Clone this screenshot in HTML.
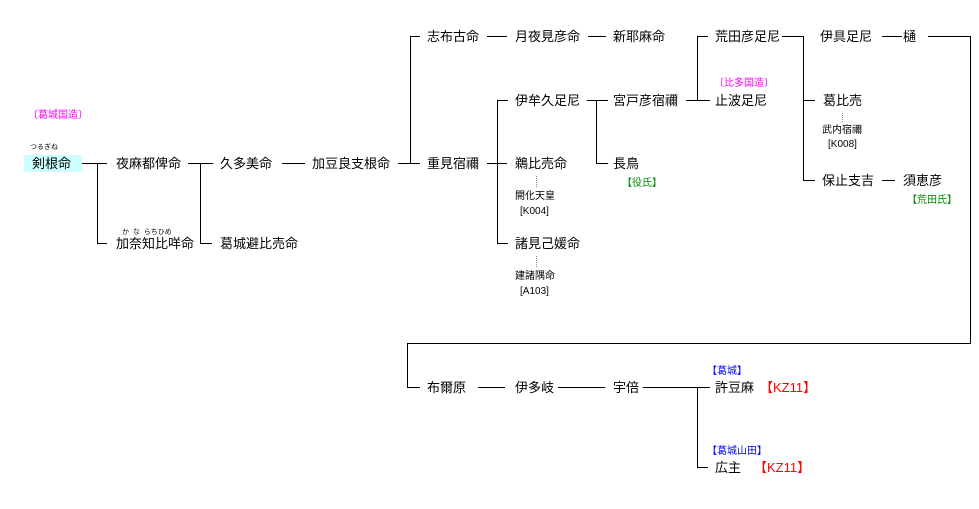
<!DOCTYPE html>
<html><head><meta charset="utf-8"><style>
body{margin:0;width:979px;height:509px;background:#fff;position:relative;overflow:hidden;font-family:"Liberation Sans","Noto Sans CJK JP",sans-serif;}
.t{position:absolute;font-size:13px;line-height:16px;white-space:nowrap;color:#000;margin-top:1px}
.s{position:absolute;font-size:10px;line-height:11px;white-space:nowrap;color:#000;}
.m{color:#f0f}.g{color:#080}.b{color:#00f}.r{color:#f00;font-size:13px}
svg{position:absolute;left:0;top:0}
</style></head><body>
<svg width="979" height="509" stroke="#000" stroke-width="1" fill="none" shape-rendering="crispEdges">
<path d="M410.5 36v127M410 36.5h10M487 36.5h20M588 36.5h18M697.5 36v64M697 36.5h11M686 100.5h24M782 36.5h21M803.5 36v144M882 36.5h20M928 36.5h42.5M970.5 36v307M407 343.5h564M407.5 343v44M407 387.5h13"/>
<path d="M497 100.5h11M497.5 100v143M497 243.5h11M587 100.5h21M596.5 100v63M596 163.5h12M803 100.5h12M803 180.5h12M882 180.5h13"/>
<path d="M82 163.5h25M97.5 163v80M97 243.5h10M188 163.5h25M200.5 163v80M200 243.5h12M282 163.5h23M398 163.5h22M487 163.5h20"/>
<path d="M478 387.5h27M558 387.5h47M643 387.5h67M697.5 387v80M697 467.5h11"/>
<path stroke="#888" stroke-dasharray="1,1" d="M536.5 176v12M536.5 256v12M842.5 113v10"/>
</svg>
<div style="position:absolute;left:24px;top:155px;width:58px;height:17px;background:#ccffff"></div>
<div class="s m" style="left:28px;top:110px">〔葛城国造〕</div>
<div class="s" style="left:30px;top:142px;font-size:7px">つるぎね</div>
<div class="t" style="left:32px;top:155px">剣根命</div>
<div class="t" style="left:116px;top:155px">夜麻都俾命</div>
<div class="s" style="left:122px;top:227px;font-size:7px">か&nbsp;&nbsp;な&nbsp;&nbsp;らちひめ</div>
<div class="t" style="left:116px;top:235px">加奈知比咩命</div>
<div class="t" style="left:220px;top:155px">久多美命</div>
<div class="t" style="left:220px;top:235px">葛城避比売命</div>
<div class="t" style="left:312px;top:155px">加豆良支根命</div>
<div class="t" style="left:427px;top:28px">志布古命</div>
<div class="t" style="left:515px;top:28px">月夜見彦命</div>
<div class="t" style="left:613px;top:28px">新耶麻命</div>
<div class="t" style="left:715px;top:28px">荒田彦足尼</div>
<div class="t" style="left:820px;top:28px">伊具足尼</div>
<div class="t" style="left:903px;top:28px">樋</div>
<div class="t" style="left:427px;top:155px">重見宿禰</div>
<div class="t" style="left:515px;top:92px">伊牟久足尼</div>
<div class="t" style="left:613px;top:92px">宮戸彦宿禰</div>
<div class="s m" style="left:714px;top:78px">〔比多国造〕</div>
<div class="t" style="left:715px;top:92px">止波足尼</div>
<div class="t" style="left:823px;top:92px">葛比売</div>
<div class="s" style="left:822px;top:125px">武内宿禰</div>
<div class="s" style="left:828px;top:139px">[K008]</div>
<div class="t" style="left:822px;top:172px">保止支吉</div>
<div class="t" style="left:903px;top:172px">須恵彦</div>
<div class="s g" style="left:907px;top:195px">【荒田氏】</div>
<div class="t" style="left:515px;top:155px">鵜比売命</div>
<div class="s" style="left:515px;top:191px">開化天皇</div>
<div class="s" style="left:520px;top:206px">[K004]</div>
<div class="t" style="left:613px;top:155px">長鳥</div>
<div class="s g" style="left:622px;top:178px">【役氏】</div>
<div class="t" style="left:515px;top:235px">諸見己媛命</div>
<div class="s" style="left:515px;top:271px">建諸隅命</div>
<div class="s" style="left:520px;top:286px">[A103]</div>
<div class="t" style="left:427px;top:379px">布爾原</div>
<div class="t" style="left:515px;top:379px">伊多岐</div>
<div class="t" style="left:613px;top:379px">宇倍</div>
<div class="s b" style="left:707px;top:366px">【葛城】</div>
<div class="t" style="left:715px;top:379px">許豆麻</div>
<div class="t r" style="left:760px;top:379px">【KZ11】</div>
<div class="s b" style="left:707px;top:446px">【葛城山田】</div>
<div class="t" style="left:715px;top:459px">広主</div>
<div class="t r" style="left:754px;top:459px">【KZ11】</div>
</body></html>
